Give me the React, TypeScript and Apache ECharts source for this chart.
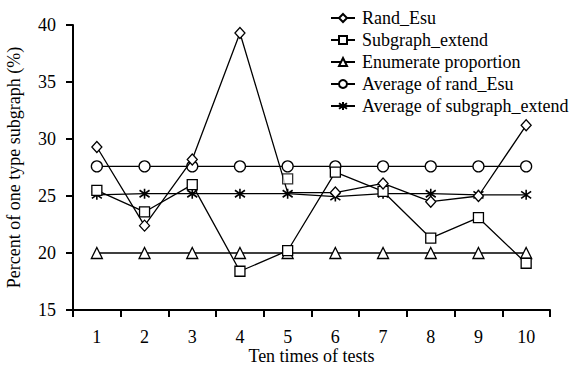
import React, { useEffect, useRef } from 'react';
import * as echarts from 'echarts';

const categories = ['1', '2', '3', '4', '5', '6', '7', '8', '9', '10'];
const randEsu = [29.3, 22.4, 28.2, 39.3, 25.3, 25.3, 26.1, 24.5, 25.0, 31.2];
const subgraphExtend = [25.5, 23.6, 26.0, 18.4, 20.2, 27.1, 25.4, 21.3, 23.1, 19.1];
const enumerateProportion = [20, 20, 20, 20, 20, 20, 20, 20, 20, 20];
const avgRandEsu = [27.6, 27.6, 27.6, 27.6, 27.6, 27.6, 27.6, 27.6, 27.6, 27.6];
const avgSubgraphExtend = [25.1, 25.2, 25.2, 25.2, 25.2, 24.95, 25.2, 25.2, 25.1, 25.1];
const hiddenRandEsuIndex = 4;
const strayCategory = '5';
const strayValue = 26.5;
const yTicks = { min: 15, max: 40, interval: 5 };

const FONT = 'Liberation Serif, Times New Roman, serif';
const STAR = 'path://M5,0L5,10M1.5,1.5L8.5,8.5M8.5,1.5L1.5,8.5';

const hollow = { color: '#fff', borderColor: '#000', borderWidth: 1.3 };

export default function App() {
  const ref = useRef<HTMLDivElement>(null);
  useEffect(() => {
    if (!ref.current) return;
    const chart = echarts.init(ref.current, undefined, { renderer: 'svg' });
    const lineStyle = { color: '#000', width: 1.3 };
    chart.setOption({
      animation: false,
      backgroundColor: '#fff',
      textStyle: { fontFamily: FONT, color: '#000' },
      grid: { left: 73, right: 32, top: 25, bottom: 56, containLabel: false, outerBoundsMode: 'none' },
      legend: {
        orient: 'vertical',
        left: 325,
        top: 2,
        itemWidth: 24,
        itemHeight: 10,
        itemGap: 0,
        data: ['Rand_Esu', 'Subgraph_extend', 'Enumerate proportion', 'Average of rand_Esu', 'Average of subgraph_extend'],
        textStyle: { fontFamily: FONT, fontSize: 18, color: '#000', lineHeight: 22, padding: [0, 0, 0, 2] },
      },
      xAxis: {
        type: 'category',
        data: categories,
        boundaryGap: true,
        name: 'Ten times of tests',
        nameLocation: 'middle',
        nameGap: 37,
        nameMoveOverlap: false,
        nameTextStyle: { fontFamily: FONT, fontSize: 18, lineHeight: 18, color: '#000' },
        axisLine: { lineStyle: { color: '#000', width: 2 } },
        axisTick: { show: true, length: 7, inside: false, lineStyle: { color: '#000', width: 2 } },
        axisLabel: { margin: 18, fontFamily: FONT, fontSize: 18, lineHeight: 18, color: '#000' },
        splitLine: { show: false },
      },
      yAxis: {
        type: 'value',
        min: yTicks.min,
        max: yTicks.max,
        interval: yTicks.interval,
        name: 'Percent of one type subgraph (%)',
        nameLocation: 'middle',
        nameGap: 50,
        nameMoveOverlap: false,
        nameTextStyle: { fontFamily: FONT, fontSize: 18, color: '#000' },
        axisLine: { show: true, lineStyle: { color: '#000', width: 2 } },
        axisTick: { show: true, length: 7, lineStyle: { color: '#000', width: 2 } },
        axisLabel: { margin: 17, fontFamily: FONT, fontSize: 18, color: '#000' },
        splitLine: { show: false },
      },
      series: [
        {
          name: 'Enumerate proportion',
          type: 'line',
          data: enumerateProportion,
          symbol: 'triangle',
          symbolSize: 11,
          showAllSymbol: true,
          lineStyle,
          itemStyle: hollow,
          z: 2,
        },
        {
          name: 'Average of rand_Esu',
          type: 'line',
          data: avgRandEsu,
          symbol: 'circle',
          symbolSize: 11,
          showAllSymbol: true,
          lineStyle,
          itemStyle: hollow,
          z: 2,
        },
        {
          name: 'Average of subgraph_extend',
          type: 'line',
          data: avgSubgraphExtend,
          symbol: STAR,
          symbolSize: 10,
          showAllSymbol: true,
          lineStyle,
          itemStyle: { color: '#000', borderColor: '#000', borderWidth: 1.6 },
          z: 3,
        },
        {
          name: 'Subgraph_extend',
          type: 'line',
          data: subgraphExtend,
          symbol: 'rect',
          symbolSize: 10,
          showAllSymbol: true,
          lineStyle,
          itemStyle: hollow,
          z: 4,
        },
        {
          name: 'Rand_Esu',
          type: 'line',
          data: randEsu.map((v, i) => (i === hiddenRandEsuIndex ? { value: v, symbol: 'none' } : v)),
          symbol: 'diamond',
          symbolSize: [10, 11],
          showAllSymbol: true,
          lineStyle,
          itemStyle: hollow,
          z: 5,
        },
        {
          name: 'stray',
          type: 'scatter',
          data: [[strayCategory, strayValue]],
          symbol: 'rect',
          symbolSize: 10,
          itemStyle: hollow,
          z: 6,
        },
      ],
    });
    return () => chart.dispose();
  }, []);
  return <div ref={ref} style={{ width: 582, height: 366, position: 'absolute', left: 0, top: 0 }} />;
}
